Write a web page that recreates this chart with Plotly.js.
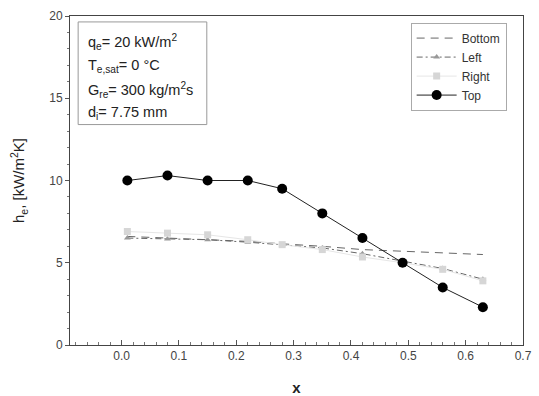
<!DOCTYPE html>
<html><head><meta charset="utf-8">
<script src="https://cdn.plot.ly/plotly-3.0.1.min.js"></script>
<style>body{margin:0;background:#fff}#c{width:539px;height:396px}</style>
</head><body><div id="c"></div>
<script>
const xVals = [0.01, 0.08, 0.15, 0.22, 0.28, 0.35, 0.42, 0.49, 0.56, 0.63];
const bottomVals = [6.6, 6.5, 6.4, 6.3, 6.15, 6.0, 5.8, 5.7, 5.6, 5.5];
const leftVals = [6.5, 6.45, 6.4, 6.25, 6.1, 5.9, 5.55, 5.1, 4.65, 4.0];
const rightVals = [6.9, 6.8, 6.7, 6.4, 6.1, 5.8, 5.35, 5.0, 4.6, 3.9];
const topVals = [10.0, 10.3, 10.0, 10.0, 9.5, 8.0, 6.5, 5.0, 3.5, 2.3];
const seriesNames = ["Bottom", "Left", "Right", "Top"];
const xTickVals = [0, 0.1, 0.2, 0.3, 0.4, 0.5, 0.6, 0.7];
const yTickVals = [0, 5, 10, 15, 20];
const infoLines = ["q<sub>e</sub>= 20 kW/m<sup>2</sup>", "T<sub>e,sat</sub>= 0 °C", "G<sub>re</sub>= 300 kg/m<sup>2</sup>s", "d<sub>i</sub>= 7.75 mm"];
const infoY = [0.921, 0.848, 0.776, 0.705];

const traces = [
  {x: xVals, y: bottomVals, name: seriesNames[0], mode: "lines",
   line: {color: "#666", width: 1, dash: "8px,6px"}},
  {x: xVals, y: leftVals, name: seriesNames[1], mode: "lines+markers",
   line: {color: "#666", width: 1, dash: "6px,3px,2px,3px"},
   marker: {symbol: "triangle-up", size: 6, color: "#999"}},
  {x: xVals, y: rightVals, name: seriesNames[2], mode: "lines+markers",
   line: {color: "#e6e6e6", width: 1},
   marker: {symbol: "square", size: 7, color: "#d6d6d6"}},
  {x: xVals, y: topVals, name: seriesNames[3], mode: "lines+markers",
   line: {color: "#222", width: 1},
   marker: {symbol: "circle", size: 10, color: "#000"}}
];

const layout = {
  width: 539, height: 396,
  margin: {l: 70, r: 16, t: 16, b: 51},
  paper_bgcolor: "#fff", plot_bgcolor: "#fff",
  font: {family: "Liberation Sans, Arial, sans-serif", size: 12, color: "#333"},
  showlegend: true,
  legend: {x: 0.752, y: 0.98, xanchor: "left", yanchor: "top",
    bordercolor: "#aaa", borderwidth: 1, bgcolor: "rgba(255,255,255,0)",
    itemwidth: 40,
    font: {size: 12, color: "#333"}, tracegroupgap: 0},
  xaxis: {range: [-0.09, 0.7], tickvals: xTickVals, tickformat: ".1f",
    ticks: "inside", ticklen: 5, tickcolor: "#555", showgrid: false, zeroline: false,
    showline: true, linecolor: "#444", linewidth: 1, mirror: true,
    minor: {dtick: 0.02, ticks: "inside", ticklen: 3, tickcolor: "#777"},
    tickfont: {size: 12, color: "#444"},
    title: {text: "<b>x</b>", font: {size: 15, color: "#222"}, standoff: 20}},
  yaxis: {range: [0, 20], tickvals: yTickVals,
    ticks: "outside", ticklen: 4, tickcolor: "#555", showgrid: false, zeroline: false,
    showline: true, linecolor: "#444", linewidth: 1, mirror: true,
    minor: {dtick: 1, ticks: "outside", ticklen: 2, tickcolor: "#777"},
    tickfont: {size: 12, color: "#444"},
    title: {text: "h<sub>e</sub>, [kW/m<sup>2</sup>K]", font: {size: 15, color: "#222"}, standoff: 20}},
  shapes: [{type: "rect", xref: "paper", yref: "paper",
    x0: 0.018, x1: 0.302, y0: 0.67, y1: 0.982,
    line: {color: "#999", width: 1}}],
  annotations: infoLines.map((t, i) => ({xref: "paper", yref: "paper", x: 0.035, y: infoY[i],
    xanchor: "left", yanchor: "middle", align: "left", showarrow: false,
    text: t, font: {size: 14.5, color: "#222"}}))
};

Plotly.newPlot("c", traces, layout, {displayModeBar: false, staticPlot: true});
</script></body></html>
